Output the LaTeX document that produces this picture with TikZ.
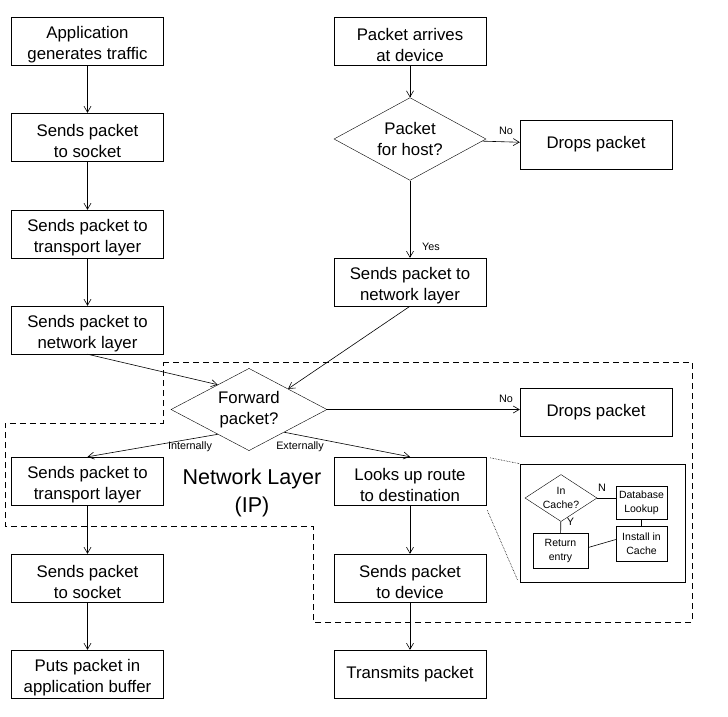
\documentclass[tikz,border=0pt]{standalone}
\usepackage{fontspec}
\setmainfont{Liberation Sans}
\usetikzlibrary{arrows.meta, positioning, shapes.geometric, calc}
\newcommand{\boxlift}{\rule{0pt}{20pt}}

\begin{document}
\begin{tikzpicture}[x=1pt, y=-1pt,
    box/.style={draw, rectangle, minimum width=152pt, minimum height=48pt, inner sep=0pt, align=center, font=\fontsize{16.8}{21}\selectfont},
    decision/.style={draw, diamond, minimum width=152pt, minimum height=70pt, inner sep=-4pt, align=center, font=\fontsize{16.8}{21}\selectfont},
    flow/.style={-{Straight Barb[length=6pt,width=7pt]}, line width=0.6pt},
    tag/.style={inner sep=0pt, font=\fontsize{10.8}{12}\selectfont},
    minibox/.style={draw, rectangle, minimum width=51pt, minimum height=34pt, inner sep=0pt, align=center, font=\fontsize{10.5}{14}\selectfont},
    minidecision/.style={draw, diamond, minimum width=72pt, minimum height=47pt, inner sep=-4pt, align=center, font=\fontsize{10.5}{14}\selectfont},
    link/.style={line width=0.6pt}]
    \useasboundingbox (0,0) rectangle (728,716);

    % Network layer region
    \draw[line width=0.6pt, dash pattern=on 6pt off 4pt] (163,362) -- (692,362) -- (692,622) -- (313,622) -- (313,526) -- (5,526) -- (5,423) -- (163,423) -- cycle;
    \node[align=center, font=\fontsize{21.5}{28}\selectfont] (netlayer) at (252,493) {Network Layer\\(IP)};

    % Sending side
    \node[box] (app) at (87.5,41) {\boxlift Application\\generates traffic};
    \node[box] (tosocket) at (87.5,137) {\boxlift Sends packet\\to socket};
    \node[box] (totransport) at (87.5,234) {\boxlift Sends packet to\\transport layer};
    \node[box] (tonetwork) at (87.5,330) {\boxlift Sends packet to\\network layer};

    % Receiving side
    \node[box] (arrives) at (410,41) {\boxlift Packet arrives\\at device};
    \node[decision] (forhost) at (410,139) {Packet\\for host?};
    \node[box, minimum height=49pt] (drop1) at (596,144.5) {Drops packet};
    \node[box] (rxnetwork) at (410,282) {\boxlift Sends packet to\\network layer};

    % Forwarding decision
    \node[decision, minimum width=156pt, minimum height=68pt] (forward) at (249,409.5) {Forward\\packet?};
    \node[box] (drop2) at (596,412) {Drops packet};

    % Internal delivery
    \node[box] (uptransport) at (87.5,481) {\boxlift Sends packet to\\transport layer};
    \node[box] (upsocket) at (87.5,578) {\boxlift Sends packet\\to socket};
    \node[box] (buffer) at (87.5,674) {\boxlift Puts packet in\\application buffer};

    % External delivery
    \node[box] (lookup) at (410,481) {\boxlift Looks up route\\to destination};
    \node[box] (todevice) at (410,578) {\boxlift Sends packet\\to device};
    \node[box] (transmit) at (410,674) {Transmits packet};

    % Route cache detail
    \node[draw, rectangle, minimum width=165pt, minimum height=118pt, line width=0.6pt] (cachebox) at (602.5,523) {};
    \node[minidecision] (incache) at (561,498) {In\\Cache?};
    \node[minibox, minimum height=33pt] (dblookup) at (641.5,502.5) {Database\\Lookup};
    \node[minibox, minimum height=35pt] (install) at (641.5,543.5) {Install in\\Cache};
    \node[minibox, minimum width=55pt, minimum height=35pt] (retentry) at (560.5,550.5) {Return\\entry};

    % Labels
    \node[tag] (nolbl1) at (506,131) {No};
    \node[tag] (yeslbl) at (431,247) {Yes};
    \node[tag] (nolbl2) at (506,399) {No};
    \node[tag] (intlbl) at (190,447) {Internally};
    \node[tag] (extlbl) at (300,447) {Externally};
    \node[tag] (nlbl) at (602,488) {N};
    \node[tag] (ylbl) at (570.5,522) {Y};

    % Connectors
    \draw[flow] (app) -- (tosocket);
    \draw[flow] (tosocket) -- (totransport);
    \draw[flow] (totransport) -- (tonetwork);
    \draw[flow] (tonetwork.south) -- ($(forward.west)!0.6!(forward.north)$);
    \draw[flow] (arrives) -- (forhost);
    \draw[flow] (forhost) -- (drop1);
    \draw[flow] (forhost) -- (rxnetwork);
    \draw[flow] (rxnetwork.south) -- ($(forward.east)!0.5!(forward.north)$);
    \draw[flow] (forward.east) -- (forward.east -| drop2.west);
    \draw[flow] ($(forward.west)!0.6!(forward.south)$) -- (uptransport.north);
    \draw[flow] ($(forward.east)!0.55!(forward.south)$) -- (lookup.north);
    \draw[flow] (uptransport) -- (upsocket);
    \draw[flow] (upsocket) -- (buffer);
    \draw[flow] (lookup) -- (todevice);
    \draw[flow] (todevice) -- (transmit);

    % Cache links
    \draw[link] (incache.east) -- (incache.east -| dblookup.west);
    \draw[link] (dblookup) -- (install);
    \draw[link] (incache) -- (retentry);
    \draw[link] ($(retentry.east)+(0,-3)$) -- ($(install.west)+(0,-4)$);
    \draw[densely dotted, line width=0.6pt] ($(lookup.north east)+(4,1)$) -- (cachebox.north west);
    \draw[densely dotted, line width=0.6pt] ($(lookup.south east)+(1,5)$) -- ($(cachebox.south west)+(-2,-2)$);
\end{tikzpicture}
\end{document}
